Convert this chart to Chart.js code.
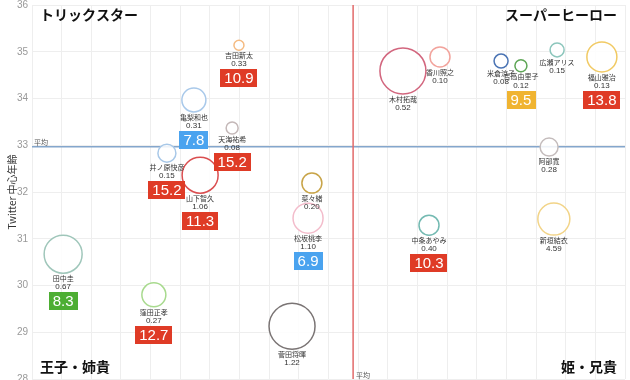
<!DOCTYPE html>
<html>
<head>
<meta charset="utf-8">
<script src="https://cdn.jsdelivr.net/npm/chart.js@4.4.0/dist/chart.umd.min.js"></script>
<style>
  html, body { margin: 0; padding: 0; background: #fff; }
  #wrap { width: 630px; height: 380px; }
</style>
</head>
<body>
<div id="wrap"><canvas id="chart"></canvas></div>
<script>
// each person: position on the map, bubble size, share value, score (null = no box)
const names = ['吉田新太', '亀梨和也', '天海祐希', '井ノ原快彦', '山下智久', '菜々緒', '松坂桃李', '田中圭', '窪田正孝', '菅田将暉',
  '木村拓哉', '香川照之', '米倉涼子', '吉高由里子', '広瀬アリス', '福山雅治', '阿部寛', '新垣結衣', '中条あやみ'];
const xValues = [6.98, 5.46, 6.75, 4.55, 5.67, 9.44, 9.31, 1.05, 4.11, 8.77,
  12.51, 13.76, 15.82, 16.49, 17.71, 19.22, 17.44, 17.6, 13.39];
const ageValues = [35.14, 33.97, 33.37, 32.83, 32.36, 32.19, 31.44, 30.67, 29.8, 29.13,
  34.59, 34.89, 34.8, 34.7, 35.04, 34.89, 32.96, 31.42, 31.29];
const bubbleSizes = [5, 12, 6, 9, 18, 10, 15, 19, 12, 23, 23, 10, 7, 6, 7, 15, 9, 16, 10];
const shares = ['0.33', '0.31', '0.08', '0.15', '1.06', '0.20', '1.10', '0.67', '0.27', '1.22',
  '0.52', '0.10', '0.08', '0.12', '0.15', '0.13', '0.28', '4.59', '0.40'];
const scores = [10.9, 7.8, 15.2, 15.2, 11.3, null, 6.9, 8.3, 12.7, null,
  null, null, null, 9.5, null, 13.8, null, null, 10.3];
const yTicks = [28, 29, 30, 31, 32, 33, 34, 35, 36];
const avgX = 10.83;
const avgAge = 32.97;
const quadrants = ['トリックスター', 'スーパーヒーロー', '王子・姉貴', '姫・兄貴'];

const ringColors = ['#f5bb82', '#a9c9ea', '#c4b8b8', '#a8c8e8', '#da4e50', '#c8a448', '#f3bccb', '#9fc6ba', '#a8da8e', '#7a7474',
  '#d2667e', '#f2a39c', '#4b74b4', '#5ea656', '#8cc6bc', '#f1ca64', '#c4bcbc', '#f2d488', '#74bab2'];

function boxColor(v) {
  if (v < 8) return '#4aa3ef';
  if (v < 9) return '#4dae33';
  if (v < 10) return '#f0b431';
  return '#df3b26';
}

const JP = '"Noto Sans CJK JP", "Noto Sans", sans-serif';

const mapDecor = {
  id: 'mapDecor',
  beforeDatasetsDraw(chart) {
    const { ctx, chartArea: a, scales: { x, y } } = chart;
    const ax = x.getPixelForValue(avgX);
    const ay = y.getPixelForValue(avgAge);
    ctx.save();
    ctx.lineWidth = 1.5;
    ctx.strokeStyle = '#84a6cc';
    ctx.beginPath(); ctx.moveTo(a.left, ay); ctx.lineTo(a.right, ay); ctx.stroke();
    ctx.strokeStyle = '#e26a6a';
    ctx.beginPath(); ctx.moveTo(ax, a.top); ctx.lineTo(ax, a.bottom); ctx.stroke();
    ctx.fillStyle = '#555';
    ctx.font = '7px ' + JP;
    ctx.textBaseline = 'bottom';
    ctx.textAlign = 'left';
    ctx.fillText('平均', a.left + 2, ay - 1);
    ctx.fillText('平均', ax + 3, a.bottom);

    ctx.fillStyle = '#111';
    ctx.font = 'bold 14px ' + JP;
    ctx.textBaseline = 'middle';
    ctx.textAlign = 'left';
    ctx.fillText(quadrants[0], a.left + 8, a.top + 10);
    ctx.fillText(quadrants[2], a.left + 8, a.bottom - 12);
    ctx.textAlign = 'right';
    ctx.fillText(quadrants[1], a.right - 8, a.top + 10);
    ctx.fillText(quadrants[3], a.right - 8, a.bottom - 12);
    ctx.restore();
  },
  afterDatasetsDraw(chart) {
    const ctx = chart.ctx;
    const meta = chart.getDatasetMeta(0);
    ctx.save();
    ctx.textAlign = 'center';
    ctx.textBaseline = 'middle';
    meta.data.forEach((el, i) => {
      const r = el.options.radius;
      const cx = el.x, cy = el.y;
      ctx.fillStyle = '#333';
      ctx.font = '7px ' + JP;
      ctx.fillText(names[i], cx, cy + r + 5);
      ctx.font = '8px "Liberation Sans", sans-serif';
      ctx.fillText(shares[i], cx, cy + r + 14);
      if (scores[i] != null) {
        const txt = scores[i].toFixed(1);
        ctx.font = '15px "Liberation Sans", sans-serif';
        const w = ctx.measureText(txt).width + 8;
        const top = cy + r + 19;
        ctx.fillStyle = boxColor(scores[i]);
        ctx.fillRect(Math.round(cx - w / 2), Math.round(top), Math.round(w), 18);
        ctx.fillStyle = '#fff';
        ctx.fillText(txt, cx, top + 10);
      }
    });
    ctx.restore();
  }
};

new Chart(document.getElementById('chart'), {
  type: 'bubble',
  data: {
    datasets: [{
      data: names.map((n, i) => ({ x: xValues[i], y: ageValues[i], r: bubbleSizes[i] })),
      borderColor: ringColors,
      backgroundColor: 'rgba(255,255,255,0.85)',
      borderWidth: 1.5,
      clip: false
    }]
  },
  options: {
    responsive: true,
    maintainAspectRatio: false,
    animation: false,
    layout: { autoPadding: false, padding: { top: 5, right: 5, bottom: 1, left: 0 } },
    plugins: { legend: { display: false }, tooltip: { enabled: false } },
    scales: {
      x: {
        min: 0, max: 20,
        ticks: { display: false, stepSize: 1 },
        grid: { color: '#eeeeee', drawTicks: false },
        border: { display: false }
      },
      y: {
        min: yTicks[0], max: yTicks[yTicks.length - 1],
        afterBuildTicks: s => { s.ticks = yTicks.map(v => ({ value: v })); },
        afterFit: s => { s.width = 32; s.paddingTop = 0; s.paddingBottom = 0; },
        ticks: { color: '#999', font: { size: 10, family: '"Liberation Sans", sans-serif' }, padding: 4 },
        grid: { color: '#eeeeee', drawTicks: false },
        border: { display: false },
        title: {
          display: true, text: 'Twitter 中心年齢', color: '#333',
          font: { size: 10, family: JP }, padding: { top: 6, bottom: 0 }
        }
      }
    }
  },
  plugins: [mapDecor]
});
</script>
</body>
</html>
